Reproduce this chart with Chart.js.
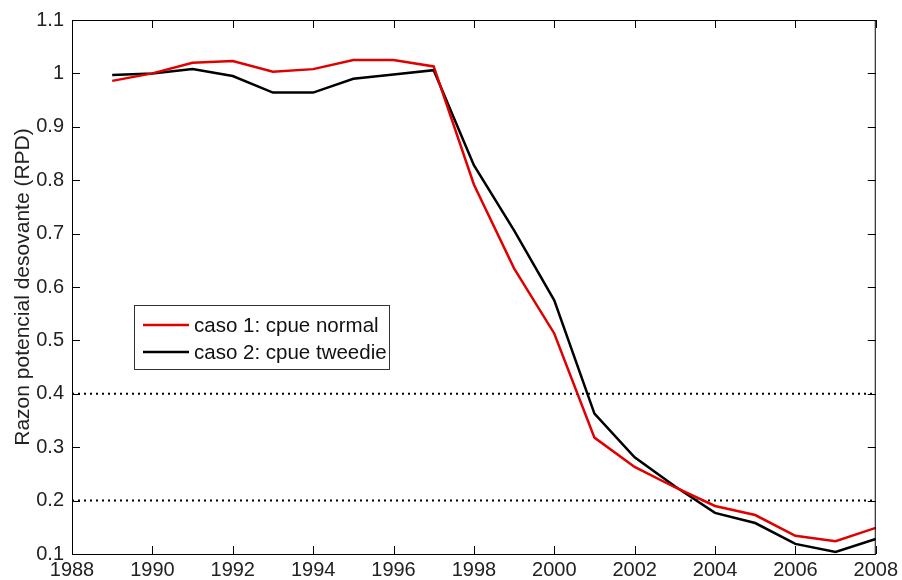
<!DOCTYPE html>
<html>
<head>
<meta charset="utf-8">
<script src="https://cdn.jsdelivr.net/npm/chart.js@4/dist/chart.umd.min.js"></script>
<style>
  html, body { margin: 0; padding: 0; background: #fff; }
  #wrap { width: 902px; height: 580px; position: relative; }
</style>
</head>
<body>
<div id="wrap"><canvas id="chart"></canvas></div>
<script>
// values
const years = [1989, 1990, 1991, 1992, 1993, 1994, 1995, 1996, 1997, 1998,
               1999, 2000, 2001, 2002, 2003, 2004, 2005, 2006, 2007, 2008];
const caso1 = [0.986, 1.000, 1.020, 1.023, 1.003, 1.008, 1.025, 1.025, 1.013, 0.792,
               0.635, 0.513, 0.318, 0.263, 0.225, 0.190, 0.173, 0.134, 0.124, 0.149];
const caso2 = [0.997, 1.000, 1.008, 0.995, 0.964, 0.964, 0.990, 0.998, 1.006, 0.828,
               0.706, 0.575, 0.363, 0.281, 0.227, 0.177, 0.158, 0.119, 0.104, 0.128];
const refYears = [1988, 2008];
const refLevels = [0.4, 0.2];
const seriesLabels = ['caso 1: cpue normal', 'caso 2: cpue tweedie'];
const yTitle = 'Razon potencial desovante (RPD)';

const tickFont = { family: "'Liberation Sans Narrow', 'Liberation Sans', Arial, sans-serif", size: 20 };
const textFont = "'Liberation Sans', Arial, sans-serif";

const toPoints = vals => years.map((yr, i) => ({ x: yr, y: vals[i] }));

const datasets = [
  { label: seriesLabels[0], data: toPoints(caso1), borderColor: '#e00000', borderWidth: 2.5 },
  { label: seriesLabels[1], data: toPoints(caso2), borderColor: '#000000', borderWidth: 2.5 },
  ...refLevels.map(lvl => ({
    label: '', data: refYears.map(yr => ({ x: yr, y: lvl })),
    borderColor: '#000', borderWidth: 2, borderDash: [2, 4]
  }))
];

// box frame, inward ticks on all four sides, and the inset legend
const framePlugin = {
  id: 'frame',
  afterDatasetsDraw(chart) {
    const { ctx, chartArea: a, scales } = chart;
    ctx.save();
    ctx.strokeStyle = '#000';
    ctx.lineWidth = 1;
    ctx.strokeRect(a.left + 0.5, a.top + 0.5, a.right - a.left - 1, a.bottom - a.top);

    const len = 8;
    ctx.beginPath();
    scales.x.ticks.forEach(t => {
      const px = Math.round(scales.x.getPixelForValue(t.value)) + 0.5;
      ctx.moveTo(px, a.bottom); ctx.lineTo(px, a.bottom - len);
      ctx.moveTo(px, a.top); ctx.lineTo(px, a.top + len);
    });
    scales.y.ticks.forEach(t => {
      const py = Math.round(scales.y.getPixelForValue(t.value)) + 0.5;
      ctx.moveTo(a.left, py); ctx.lineTo(a.left + len, py);
      ctx.moveTo(a.right, py); ctx.lineTo(a.right - len, py);
    });
    ctx.stroke();

    // legend
    const bx = 134, by = 305, bw = 255, bh = 64;
    ctx.fillStyle = '#fff';
    ctx.fillRect(bx, by, bw, bh);
    ctx.strokeStyle = '#333';
    ctx.strokeRect(bx + 0.5, by + 0.5, bw, bh);
    ctx.font = '20.5px ' + textFont;
    ctx.textBaseline = 'middle';
    ctx.fillStyle = '#111';
    [0, 1].forEach(i => {
      const ds = chart.data.datasets[i];
      const y = by + 20 + i * 27;
      ctx.strokeStyle = ds.borderColor;
      ctx.lineWidth = 2.5;
      ctx.beginPath();
      ctx.moveTo(bx + 9, y); ctx.lineTo(bx + 55, y);
      ctx.stroke();
      ctx.fillText(ds.label, bx + 60, y + 1);
    });
    ctx.restore();
  }
};

new Chart(document.getElementById('chart'), {
  type: 'line',
  data: { datasets },
  options: {
    responsive: true,
    maintainAspectRatio: false,
    animation: false,
    layout: { padding: { top: 19, right: 22, left: 0, bottom: 0 } },
    elements: { point: { radius: 0 }, line: { tension: 0 } },
    plugins: { legend: { display: false }, tooltip: { enabled: false } },
    scales: {
      x: {
        type: 'linear', min: 1988, max: 2008,
        grid: { display: false, drawTicks: false },
        border: { display: false },
        ticks: { stepSize: 2, padding: 4, color: '#222', font: tickFont, maxRotation: 0,
                 callback: v => String(v) },
        afterFit: s => { s.height = 26; }
      },
      y: {
        min: 0.1, max: 1.1,
        grid: { display: false, drawTicks: false },
        border: { display: false },
        ticks: { stepSize: 0.1, padding: 8, color: '#222', font: tickFont,
                 callback: v => String(parseFloat(v.toFixed(1))) },
        title: { display: true, text: yTitle, color: '#222',
                 font: { family: textFont, size: 21 }, padding: { top: 11, bottom: 0 } },
        afterFit: s => { s.width = 72; }
      }
    }
  },
  plugins: [framePlugin]
});
</script>
</body>
</html>
